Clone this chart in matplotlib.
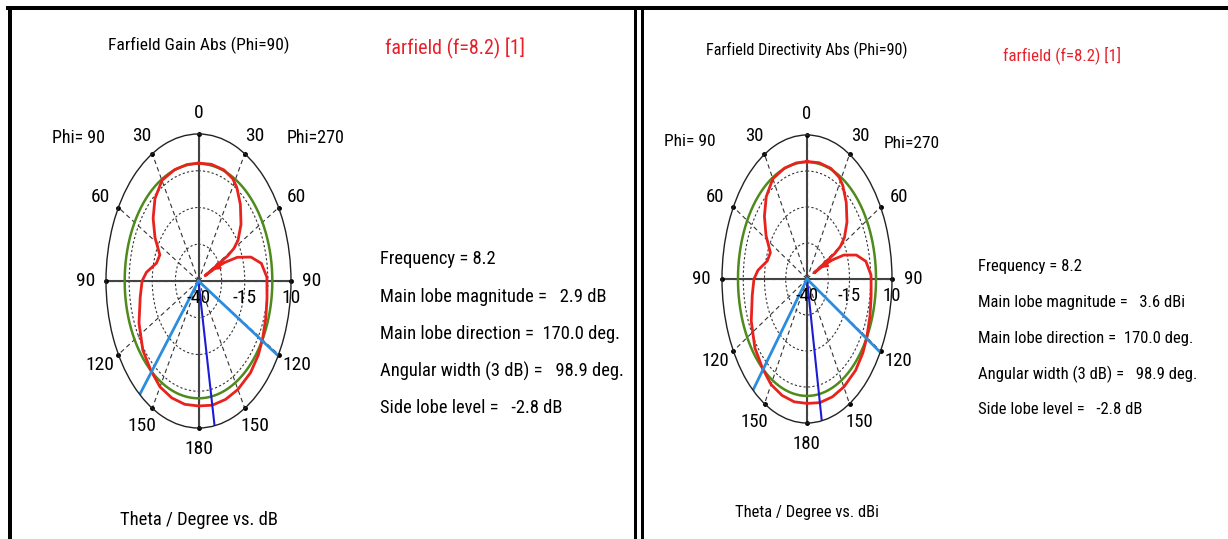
import numpy as np
import matplotlib
matplotlib.use('Agg')
import matplotlib.pyplot as plt
from matplotlib.lines import Line2D
from matplotlib import font_manager
from matplotlib.font_manager import FontProperties

W, H = 1228, 539

# theta measured clockwise from the top of the plot (0..360)
theta_deg = [0, 10, 20, 28, 33, 41, 50, 57, 60, 61.5, 63, 64.5, 66, 69, 74, 80, 88,
             99, 109, 120, 128, 138, 150, 160, 170, 180, 190, 200, 210, 220, 232,
             246, 260, 270, 276, 285, 293, 302, 311, 320, 330, 341, 351, 360]
gain_db = [0.1, 0.3, 0.2, -0.6, -2.0, -5.5, -10.0, -14.5, -18.0, -22.0, -36.0, -28.0,
           -24.5, -17.5, -10.5, -5.5, -3.0, -2.5, -1.5, -0.1, 1.0, 2.0, 2.6, 2.85,
           2.9, 2.5, 2.6, 2.3, 1.6, -0.1, -1.8, -4.8, -8.0, -9.5, -11.7, -16.5,
           -17.3, -12.3, -7.5, -3.4, -0.5, 0.0, 0.1, 0.1]
directivity_dbi = [0.8, 1.0, 0.9, 0.1, -1.3, -4.8, -9.3, -13.8, -17.3, -21.3, -35.3,
                   -27.3, -23.8, -16.8, -9.8, -4.8, -2.3, -1.8, -0.8, 0.6, 1.7, 2.7,
                   3.3, 3.55, 3.6, 3.2, 3.3, 3.0, 2.3, 0.6, -1.1, -4.1, -7.3, -8.8,
                   -11.0, -15.8, -16.6, -11.6, -6.8, -2.7, 0.2, 0.7, 0.8, 0.8]

tick_angles = list(range(0, 360, 30))
tick_labels = ['0', '30', '60', '90', '120', '150', '180', '150', '120', '90', '60', '30']
grid_circles = [-27.5, -15, -2.5]
radial_labels = [-40, -15, 10]
r_min, r_max = -40, 10

frequency = 8.2
main_dir = 170.0
beam_width = 98.9
side_lobe = -2.8


def pick_narrow():
    prefs = ['Liberation Sans Narrow', 'Roboto Condensed', 'DejaVu Sans', 'Noto Sans',
             'Open Sans', 'Lato', 'Inter', 'Roboto']
    found = [f for f in font_manager.fontManager.ttflist
             if ('condensed' in str(f.stretch) or 'narrow' in f.name.lower()
                 or 'condensed' in f.name.lower())
             and f.style == 'normal' and f.weight in (400, 'normal', 'regular')]
    for p in prefs:
        for f in found:
            if f.name.startswith(p):
                return f.fname
    return found[0].fname if found else None


narrow = pick_narrow()
if narrow:
    def fp(size):
        return FontProperties(fname=narrow, size=size)
else:
    def fp(size):
        return FontProperties(family=['Roboto', 'Liberation Sans', 'DejaVu Sans'],
                              size=size * 0.85)


def px(x, y):
    return x / W, 1 - y / H


def draw_panel(fig, box, values, main_mag, unit, title, bottom, texts, sz):
    x0, y0, x1, y1 = box
    ax = fig.add_axes([x0 / W, 1 - y1 / H, (x1 - x0) / W, (y1 - y0) / H],
                      projection='polar')
    ax.set_aspect('auto')
    ax.set_theta_zero_location('N')
    ax.set_theta_direction(-1)
    ax.set_ylim(r_min, r_max)

    ax.set_xticks(np.deg2rad(tick_angles))
    ax.set_xticklabels(tick_labels, fontproperties=fp(sz['tick']))
    ax.tick_params(axis='x', pad=8, length=0)
    ax.set_yticks(grid_circles)
    ax.set_yticklabels([])
    ax.xaxis.grid(True, color='#333333', ls=(0, (4, 3)), lw=0.8)
    ax.yaxis.grid(True, color='#333333', ls=(0, (2, 2)), lw=0.8)
    ax.spines['polar'].set_color('#222222')
    ax.spines['polar'].set_linewidth(1.0)

    # solid axes crosses
    for a in (0, 90, 180, 270):
        ax.plot(np.deg2rad([a, a]), [r_min, r_max], color='#444444', lw=1.5)
    ax.plot(np.deg2rad(tick_angles), [r_max] * len(tick_angles), 'o', color='k',
            ms=2.5, clip_on=False)

    # 3 dB level circle
    circ = np.linspace(0, 2 * np.pi, 361)
    ax.plot(circ, np.full_like(circ, main_mag - 3), color='#4f8a1c', lw=1.8)

    # pattern
    ax.plot(np.deg2rad(theta_deg), values, color='#e8221c', lw=2)
    ax.annotate('', xy=(np.deg2rad(62.5), -33), xytext=(np.deg2rad(66), -23),
                arrowprops=dict(arrowstyle='-|>', color='#e8221c', lw=1.6,
                                mutation_scale=10))

    # main lobe and 3 dB width
    ax.plot(np.deg2rad([main_dir, main_dir]), [r_min, r_max], color='#1c1cd6', lw=1.5)
    for a in (main_dir - beam_width / 2, main_dir + beam_width / 2):
        ax.plot(np.deg2rad([a, a]), [r_min, r_max], color='#2a8de0', lw=2)

    for r in radial_labels:
        ax.annotate(str(r), xy=(np.deg2rad(90), r), xytext=(0, -6),
                    textcoords='offset points', ha='center', va='top',
                    fontproperties=fp(sz['tick']))

    cx = (x0 + x1) / 2
    fig.text(*px(cx, texts['title_y']), title, ha='center', va='center',
             fontproperties=fp(sz['title']))
    fig.text(*px(*texts['legend']), 'farfield (f=8.2) [1]', ha='center', va='center',
             fontproperties=fp(sz['legend']), color='#e8202a')
    fig.text(*px(*texts['phi90']), 'Phi= 90', ha='center', va='center',
             fontproperties=fp(sz['phi']))
    fig.text(*px(*texts['phi270']), 'Phi=270', ha='center', va='center',
             fontproperties=fp(sz['phi']))
    fig.text(*px(cx, texts['bottom_y']), bottom, ha='center', va='center',
             fontproperties=fp(sz['bottom']))

    lines = ['Frequency = %g' % frequency,
             'Main lobe magnitude =   %.1f %s' % (main_mag, unit),
             'Main lobe direction =  %.1f deg.' % main_dir,
             'Angular width (3 dB) =   %.1f deg.' % beam_width,
             'Side lobe level =   %.1f dB' % side_lobe]
    ix = texts['info_x']
    for line, iy in zip(lines, texts['info_y']):
        fig.text(*px(ix, iy), line, ha='left', va='center',
                 fontproperties=fp(sz['info']))
    return ax


fig = plt.figure(figsize=(W / 100, H / 100), dpi=100)

draw_panel(fig, (106, 134, 291, 428), gain_db, 2.9, 'dB',
           'Farfield Gain Abs (Phi=90)', 'Theta / Degree vs. dB',
           dict(title_y=45, legend=(455, 48), phi90=(78, 138), phi270=(316, 138),
                bottom_y=520, info_x=380, info_y=[259, 297, 334, 371, 408]),
           dict(tick=14, title=12.6, legend=14.5, phi=13, bottom=13.4, info=13.3))
draw_panel(fig, (722, 135, 892, 423), directivity_dbi, 3.6, 'dBi',
           'Farfield Directivity Abs (Phi=90)', 'Theta / Degree vs. dBi',
           dict(title_y=50, legend=(1062, 55), phi90=(690, 142), phi270=(912, 143),
                bottom_y=513, info_x=978, info_y=[267, 302, 339, 374, 410]),
           dict(tick=13.5, title=11.6, legend=12.2, phi=12.5, bottom=11.9, info=12))

# panel frames
frame = [((8, 8), (1228, 8), 4), ((10, 8), (10, 539), 4),
         ((635.5, 8), (635.5, 539), 3), ((641.5, 8), (641.5, 539), 3)]
for (xa, ya), (xb, yb), w in frame:
    fig.add_artist(Line2D([xa / W, xb / W], [1 - ya / H, 1 - yb / H], color='k',
                          lw=w * 0.72, transform=fig.transFigure))

fig.savefig('out.png', dpi=100, facecolor='white')
